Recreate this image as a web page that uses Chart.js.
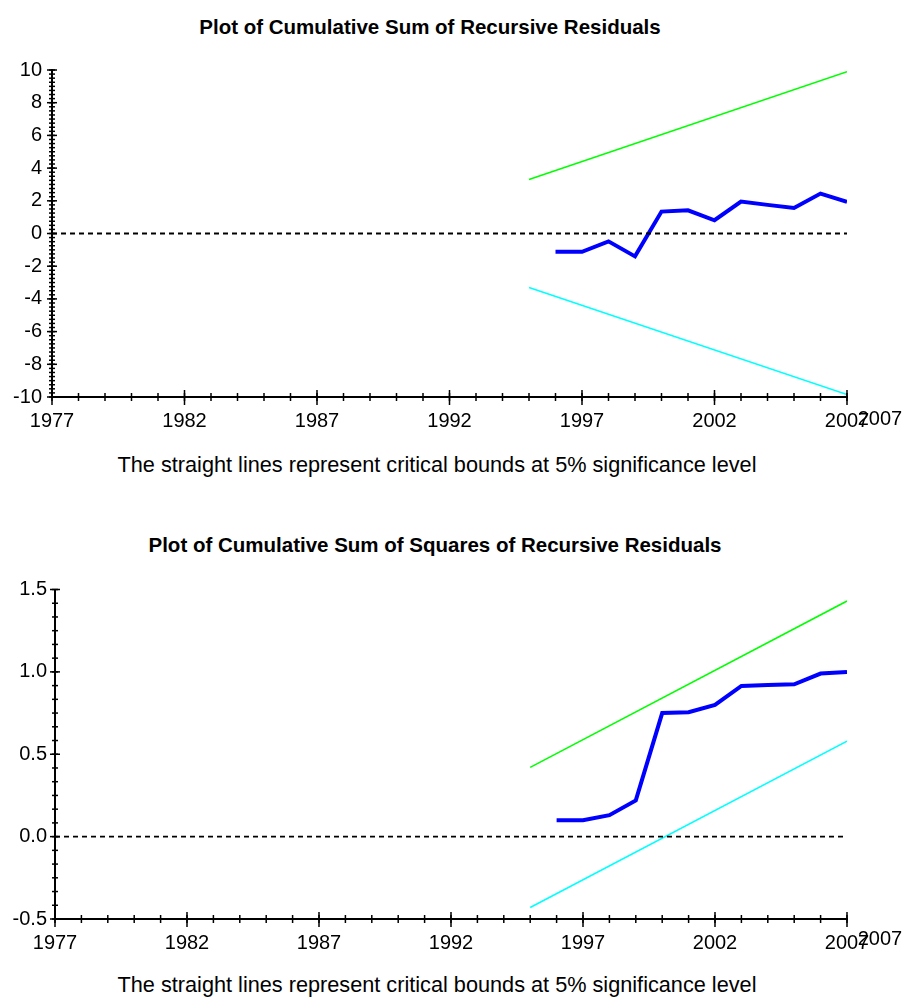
<!DOCTYPE html>
<html>
<head>
<meta charset="utf-8">
<script src="https://cdn.jsdelivr.net/npm/chart.js@4/dist/chart.umd.min.js"></script>
<style>
  body { margin: 0; background: #fff; width: 906px; height: 999px; position: relative; overflow: hidden;
         font-family: Arial, "Liberation Sans", sans-serif; color: #000; }
  canvas { position: absolute; left: 0; }
  .title { position: absolute; transform: translate(-50%, -50%); font-weight: bold; font-size: 20.5px; white-space: nowrap; }
  .note  { position: absolute; transform: translate(-50%, -50%); font-size: 21.7px; white-space: nowrap; }
  .extra { position: absolute; transform: translate(-50%, -50%); font-size: 20px; white-space: nowrap; }
</style>
</head>
<body>
<div class="title" style="left:430px; top:27px">Plot of Cumulative Sum of Recursive Residuals</div>
<canvas id="cusum" width="906" height="400" style="top:40px"></canvas>
<div class="extra" style="left:880px; top:418px">2007</div>
<div class="note" style="left:437px; top:465px">The straight lines represent critical bounds at 5% significance level</div>

<div class="title" style="left:435px; top:545px">Plot of Cumulative Sum of Squares of Recursive Residuals</div>
<canvas id="cusumsq" width="906" height="400" style="top:560px"></canvas>
<div class="extra" style="left:880px; top:938px">2007</div>
<div class="note" style="left:437px; top:985px">The straight lines represent critical bounds at 5% significance level</div>

<script>
'use strict';

// ── Data ──────────────────────────────────────────────────────────────
const xTickYears = [1977, 1982, 1987, 1992, 1997, 2002, 2007];
const boundYears = [1995, 2007];
const zeroYears  = [1977, 2007];
const residYears = [1996, 1997, 1998, 1999, 2000, 2001, 2002, 2003, 2004, 2005, 2006, 2007];

// CUSUM
const cusumTicks  = [-10, -8, -6, -4, -2, 0, 2, 4, 6, 8, 10];
const cusumValues = [-1.12, -1.12, -0.48, -1.40, 1.34, 1.42, 0.81, 1.95, 1.75, 1.56, 2.44, 1.93];
const cusumUpper  = [3.3, 9.9];
const cusumLower  = [-3.3, -9.85];

// CUSUM of squares
const sqTicks  = [-0.5, 0.0, 0.5, 1.0, 1.5];
const sqValues = [0.10, 0.10, 0.13, 0.22, 0.75, 0.755, 0.80, 0.915, 0.92, 0.925, 0.99, 1.00];
const sqUpper  = [0.42, 1.43];
const sqLower  = [-0.43, 0.58];

const pts = (xs, ys) => xs.map((x, i) => ({ x, y: ys[i] }));

// ── Tick marks that cross the axes (major + minor) ────────────────────
const crossTicks = {
  id: 'crossTicks',
  afterDraw(chart, args, opts) {
    const { ctx, scales: { x, y } } = chart;
    ctx.save();
    ctx.strokeStyle = '#000';
    ctx.lineWidth = 1.5;
    const line = (x1, y1, x2, y2) => { ctx.beginPath(); ctx.moveTo(x1, y1); ctx.lineTo(x2, y2); ctx.stroke(); };

    // y axis
    const ny = Math.round((y.max - y.min) / opts.yMinor);
    for (let i = 0; i <= ny; i++) {
      const py = y.getPixelForValue(y.min + i * opts.yMinor);
      line(x.left - 3, py, x.left + 3, py);
    }
    y.ticks.forEach(t => {
      const py = y.getPixelForValue(t.value);
      line(x.left - 5, py, x.left + 5, py);
    });

    // x axis
    for (let v = x.min; v <= x.max; v++) {
      const px = x.getPixelForValue(v);
      line(px, y.bottom - 4, px, y.bottom + 4);
    }
    x.ticks.forEach(t => {
      const px = x.getPixelForValue(t.value);
      line(px, y.bottom - 7, px, y.bottom + 8);
    });
    ctx.restore();
  }
};

function makeChart(id, cfg) {
  const font = { family: 'Arial, "Liberation Sans", sans-serif', size: 20 };
  return new Chart(document.getElementById(id), {
    type: 'line',
    data: {
      datasets: [
        { data: pts(zeroYears, [0, 0]), borderColor: '#000', borderWidth: 1.8, borderDash: [5, 4] },
        { data: pts(boundYears, cfg.upper), borderColor: '#00ff00', borderWidth: 1.5 },
        { data: pts(boundYears, cfg.lower), borderColor: '#00ffff', borderWidth: 1.5 },
        { data: pts(residYears, cfg.values), borderColor: '#0000ff', borderWidth: 4 },
      ],
    },
    options: {
      responsive: false,
      animation: false,
      layout: { padding: { top: cfg.padTop, right: 59, left: 0, bottom: 0 } },
      elements: { point: { radius: 0 }, line: { tension: 0, borderCapStyle: 'butt' } },
      plugins: {
        legend: { display: false },
        tooltip: { enabled: false },
        crossTicks: { yMinor: cfg.yMinor },
      },
      scales: {
        x: {
          type: 'linear', min: 1977, max: 2007,
          afterBuildTicks: s => { s.ticks = xTickYears.map(v => ({ value: v })); },
          afterFit: s => { s.height = cfg.xHeight; },
          grid: { drawOnChartArea: false, drawTicks: false },
          border: { color: '#000', width: 2 },
          ticks: { color: '#000', font, padding: cfg.xPad, autoSkip: false, maxRotation: 0,
                   callback: v => String(v) },
        },
        y: {
          type: 'linear', min: cfg.ticks[0], max: cfg.ticks[cfg.ticks.length - 1],
          afterBuildTicks: s => { s.ticks = cfg.ticks.map(v => ({ value: v })); },
          afterFit: s => { s.width = cfg.yWidth; },
          grid: { drawOnChartArea: false, drawTicks: false },
          border: { color: '#000', width: 2 },
          ticks: { color: '#000', font, padding: cfg.yPad, autoSkip: false, callback: cfg.fmt },
        },
      },
    },
    plugins: [crossTicks],
  });
}

makeChart('cusum', {
  values: cusumValues, upper: cusumUpper, lower: cusumLower, ticks: cusumTicks,
  yMinor: 0.25, padTop: 30, xHeight: 43, yWidth: 52, xPad: 12, yPad: 10,
  fmt: v => String(v),
});

makeChart('cusumsq', {
  values: sqValues, upper: sqUpper, lower: sqLower, ticks: sqTicks,
  yMinor: 0.5 / 6, padTop: 29.5, xHeight: 41, yWidth: 55, xPad: 12, yPad: 8,
  fmt: v => v.toFixed(1),
});
</script>
</body>
</html>
